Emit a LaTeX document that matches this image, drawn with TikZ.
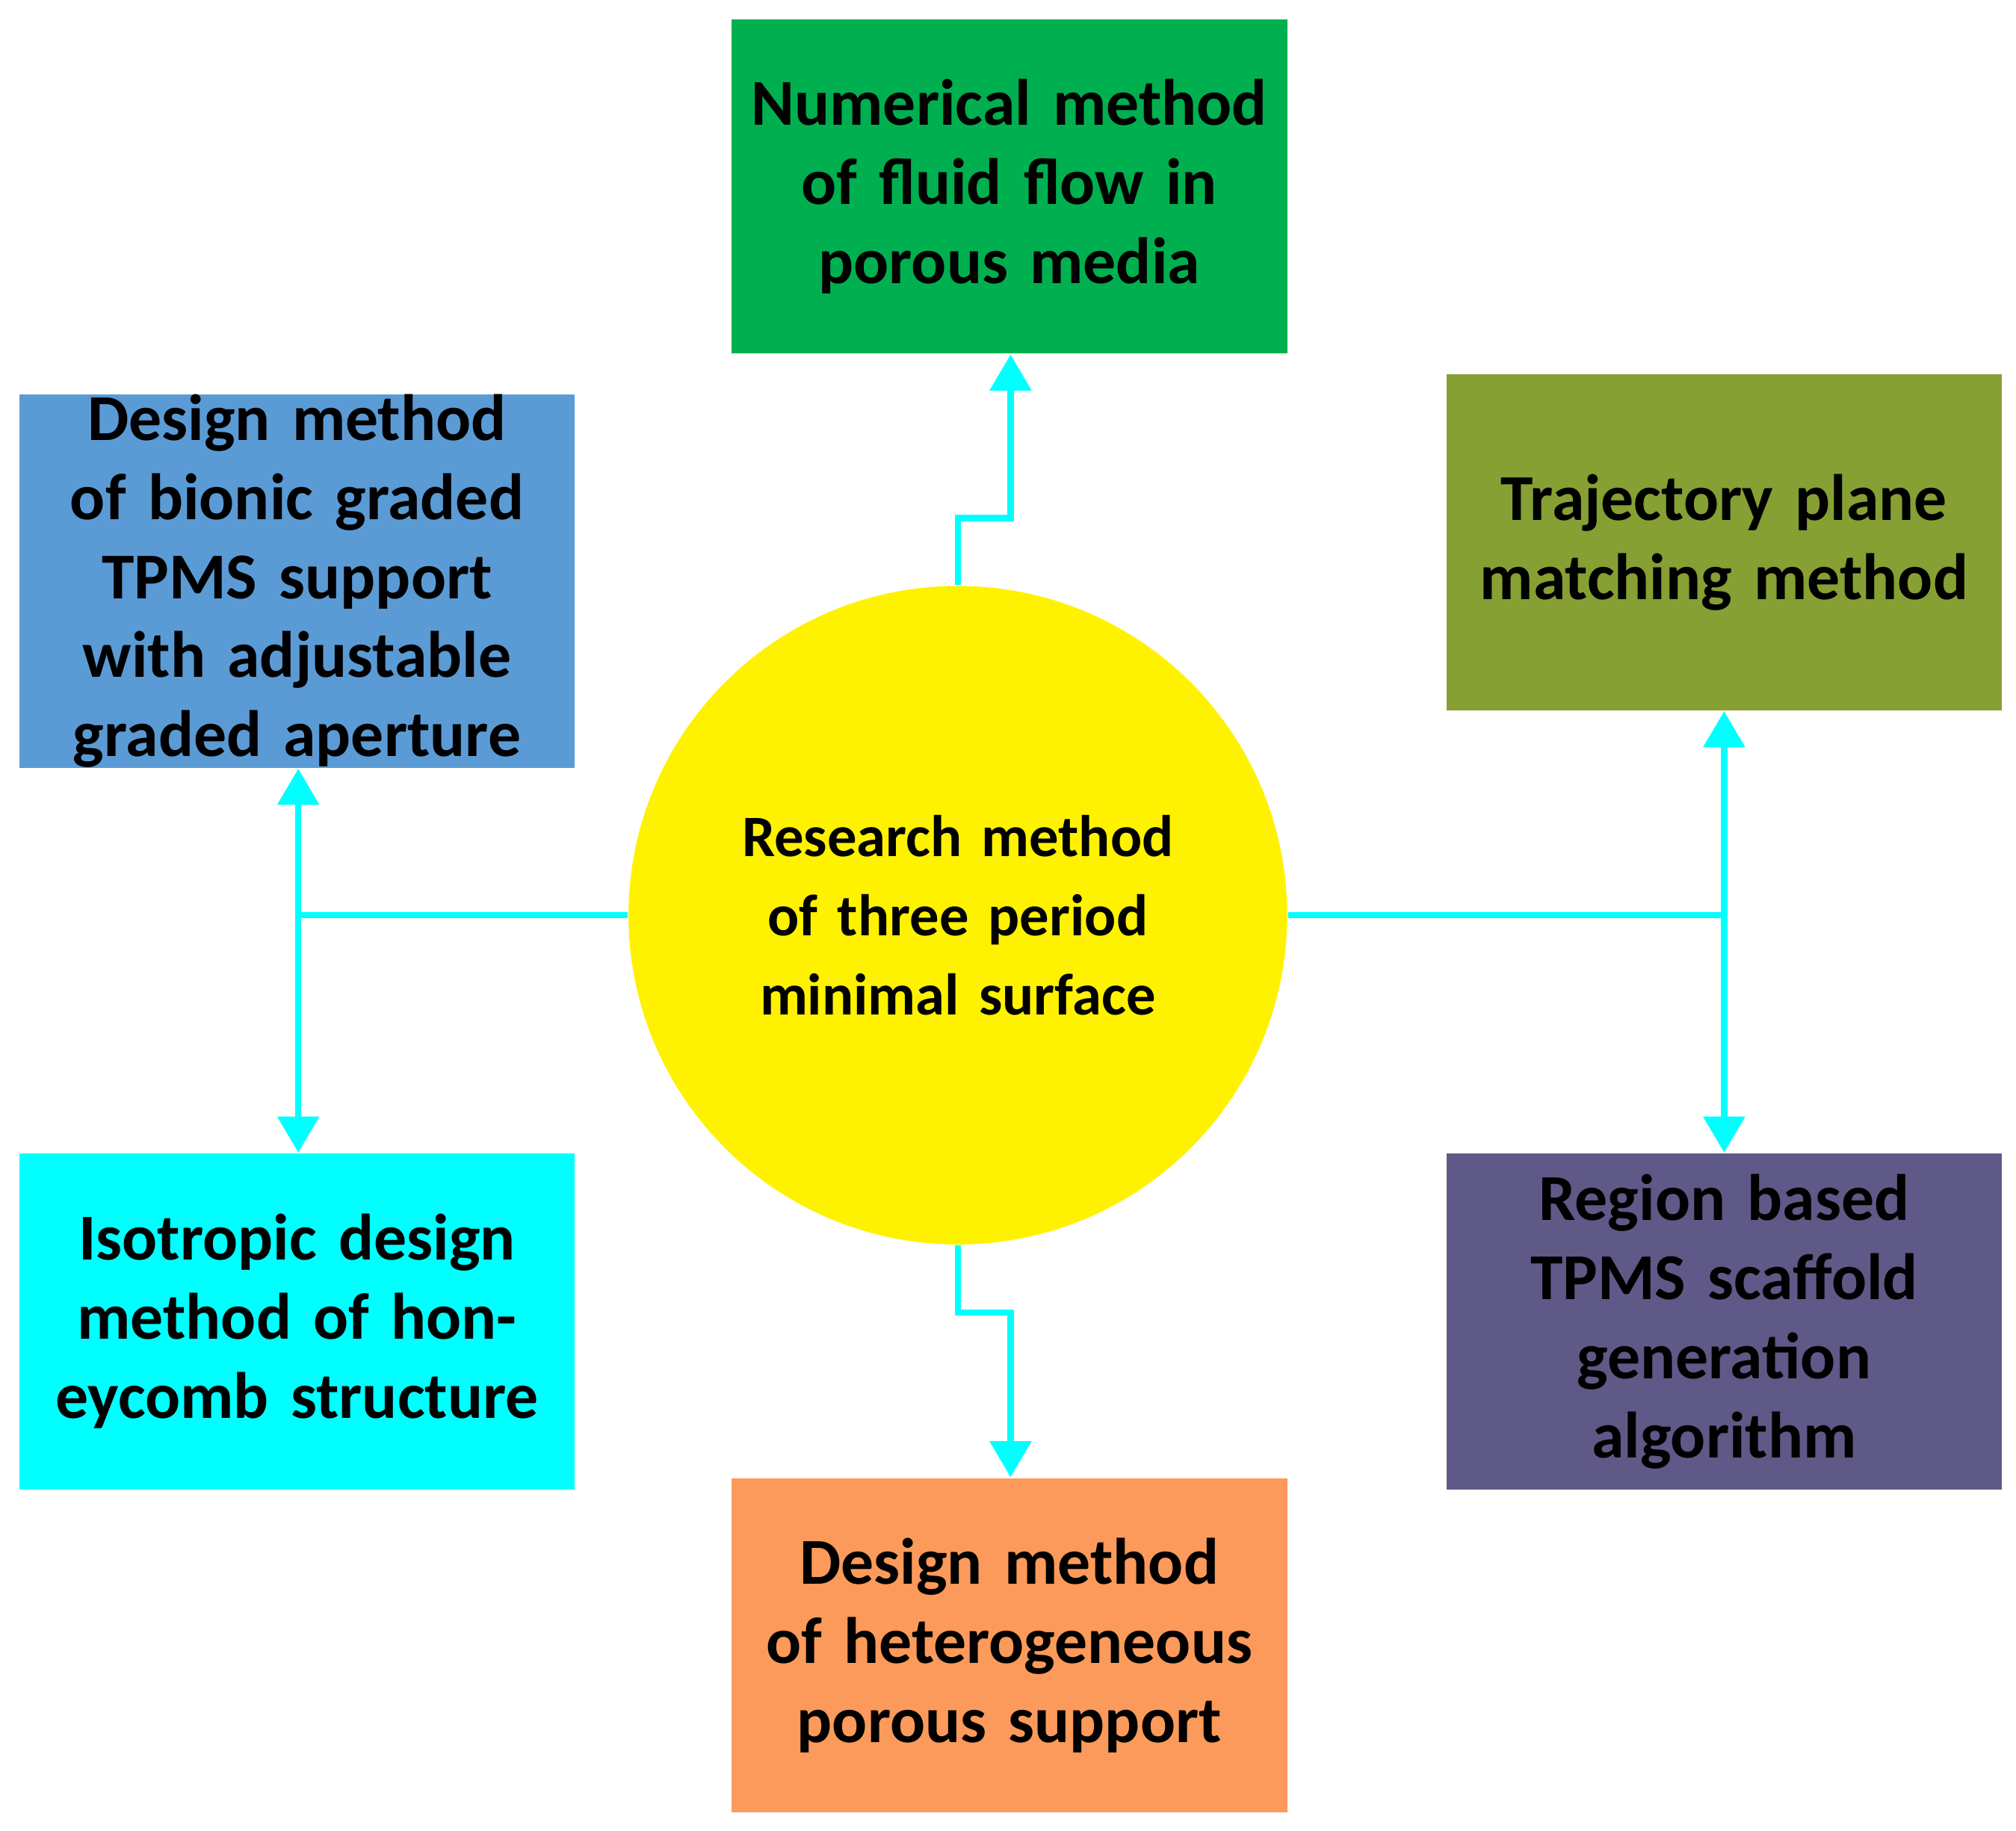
\documentclass[tikz,border=0pt]{standalone}
\usepackage{fontspec}
\setmainfont{Carlito}
\usetikzlibrary{arrows.meta}
\definecolor{cgreen}{HTML}{00B050}
\definecolor{cblue}{HTML}{5B9BD5}
\definecolor{colive}{HTML}{86A033}
\definecolor{ccyan}{HTML}{00FFFF}
\definecolor{cpurple}{HTML}{5F5987}
\definecolor{corange}{HTML}{FB9A5A}
\begin{document}
\begin{tikzpicture}[x=0.01cm,y=-0.01cm,
 box/.style={draw=none,minimum width=4.32cm,minimum height=2.61cm,text width=4.1cm,align=center,font=\fontsize{14.5}{17.5}\selectfont\bfseries,inner sep=0pt},
 con/.style={draw=ccyan,line width=1.4pt},
 arr/.style={con,-{Triangle[length=8pt,width=9pt]}}]
\useasboundingbox (0,0) rectangle (1568,1424);
\node[box,fill=cgreen,minimum height=2.6cm] (top) at (785,145) {Numerical method of fluid flow in porous media};
\node[box,fill=cblue] (lt) at (231,452) {Design method of bionic graded TPMS support with adjustable graded aperture};
\node[box,fill=colive] (rt) at (1341,422) {Trajectory plane matching method};
\node[box,fill=ccyan] (lb) at (231,1028) {Isotropic design method of honeycomb structure};
\node[box,fill=cpurple] (rb) at (1341,1028) {Region based TPMS scaffold generation algorithm};
\node[box,fill=corange,minimum height=2.6cm] (bot) at (785,1280) {Design method of heterogeneous porous support};
\node[circle,fill=yellow,minimum size=5.12cm,text width=4.5cm,align=center,inner sep=0pt,font=\fontsize{13}{17.5}\selectfont\bfseries] (c) at (745,712) {Research method of three period minimal surface};
\coordinate (t1) at (745,403); \coordinate (t2) at (786,403);
\coordinate (b1) at (745,1021); \coordinate (b2) at (786,1021);
\coordinate (lj) at (232,712); \coordinate (rj) at (1341,712);
\draw[arr] (c.north) -- (t1) -- (t2) -- (top.south -| t2);
\draw[arr] (c.south) -- (b1) -- (b2) -- (bot.north -| b2);
\draw[con] (c.west) -- (lj);
\draw[arr] (lj) -- (lt.south -| lj);
\draw[arr] (lj) -- (lb.north -| lj);
\draw[con] (c.east) -- (rj);
\draw[arr] (rj) -- (rt.south -| rj);
\draw[arr] (rj) -- (rb.north -| rj);
\end{tikzpicture}
\end{document}
